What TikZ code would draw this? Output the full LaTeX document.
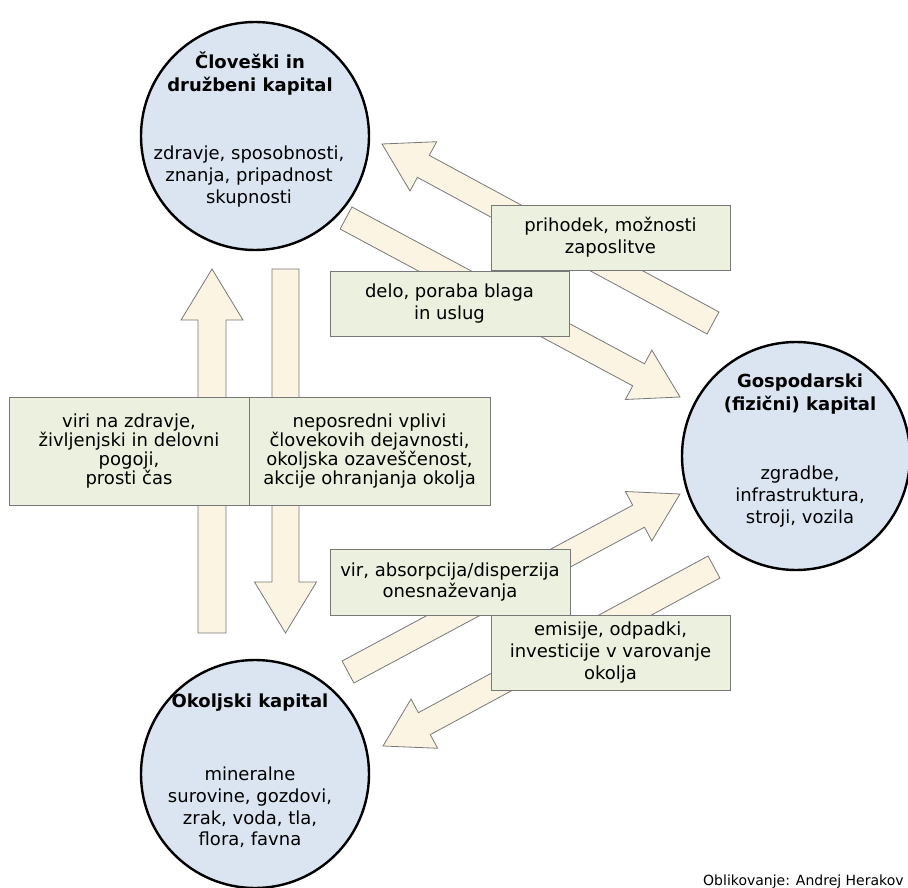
\documentclass[tikz,border=0pt]{standalone}
\usepackage{fontspec}
\setmainfont{DejaVu Sans}
\usetikzlibrary{calc}

\definecolor{capblue}{RGB}{219,229,241}
\definecolor{boxgreen}{RGB}{235,241,222}
\definecolor{flowcream}{RGB}{251,244,226}
\definecolor{edgegray}{RGB}{120,120,120}

% block arrow: tail, tip, half shaft width, half head width, head length
\newcommand\flowarrow[5]{%
  \coordinate (hb) at ($(#2)!#5pt!(#1)$);
  \draw[flow] ($(#1)!#3pt!90:(#2)$) -- ($(hb)!#3pt!90:(#2)$)
    -- ($(hb)!#4pt!90:(#2)$) -- (#2) -- ($(hb)!#4pt!-90:(#2)$)
    -- ($(hb)!#3pt!-90:(#2)$) -- ($(#1)!#3pt!-90:(#2)$) -- cycle;
}

\tikzset{
  capital/.style={circle, draw=black, line width=2.4pt, fill=capblue,
    minimum size=228pt, inner sep=0pt},
  tag/.style={draw=edgegray, line width=0.9pt, fill=boxgreen, align=center,
    inner sep=0pt},
  flow/.style={draw=edgegray, line width=0.8pt, fill=flowcream, line join=miter},
  captitle/.style={font=\fontsize{18}{23}\selectfont\bfseries, align=center, inner sep=0pt},
  capbody/.style={align=center, inner sep=0pt},
  tight/.style={font=\fontsize{18}{18.7}\selectfont},
}

\begin{document}
\begin{tikzpicture}[x=1pt, y=-1pt, font=\fontsize{18}{21.7}\selectfont]
\useasboundingbox (0,0) rectangle (908,888);

% arrow end points
\coordinate (upTail) at (212,633);
\coordinate (upTip) at (212,269);
\coordinate (downTail) at (285.5,269);
\coordinate (downTip) at (285.5,633);
\coordinate (incTail) at (713,323);
\coordinate (incTip) at (382,144);
\coordinate (workTail) at (346,218);
\coordinate (workTip) at (680,397);
\coordinate (srcTail) at (348,672);
\coordinate (srcTip) at (680,494);
\coordinate (emTail) at (714,567);
\coordinate (emTip) at (383,746);

% flows between the capitals
\flowarrow{upTail}{upTip}{14}{31}{51}
\flowarrow{downTail}{downTip}{13.5}{31}{51}
\flowarrow{incTail}{incTip}{12.5}{28}{47}
\flowarrow{workTail}{workTip}{12.5}{28}{47}
\flowarrow{srcTail}{srcTip}{12.5}{28}{47}
\flowarrow{emTail}{emTip}{12.5}{28}{47}

% the three capitals
\node[capital] (human) at (255,136) {};
\node[capital] (econ) at (796,456) {};
\node[capital] (env) at (255,774) {};

\node[captitle] (humanT) at (250,74) {Človeški in\\družbeni kapital};
\node[capbody] (humanB) at (249,176.5) {zdravje, sposobnosti,\\znanja, pripadnost\\skupnosti};

\node[captitle] (econT) at (800,394) {Gospodarski\\(fizični) kapital};
\node[capbody] (econB) at (800,496.5) {zgradbe,\\infrastruktura,\\stroji, vozila};

\node[captitle] (envT) at (250,703) {Okoljski kapital};
\node[capbody] (envB) at (250,807.5) {mineralne\\surovine, gozdovi,\\zrak, voda, tla,\\flora, favna};

% labels of the flows
\node[tag, tight, minimum width=240pt, minimum height=108pt] (health) at (129,451)
  {viri na zdravje,\\življenjski in delovni\\pogoji,\\prosti čas};
\node[tag, tight, minimum width=241pt, minimum height=108pt] (impact) at (369.5,451)
  {neposredni vplivi\\človekovih dejavnosti,\\okoljska ozaveščenost,\\akcije ohranjanja okolja};
\node[tag, minimum width=239pt, minimum height=65pt] (income) at (610.5,237.5)
  {prihodek, možnosti\\zaposlitve};
\node[tag, minimum width=239pt, minimum height=65pt] (work) at (449.5,303.5)
  {delo, poraba blaga\\in uslug};
\node[tag, minimum width=240pt, minimum height=66pt] (source) at (450,582)
  {vir, absorpcija/disperzija\\onesnaževanja};
\node[tag, minimum width=239pt, minimum height=75pt] (emission) at (610.5,652.5)
  {emisije, odpadki,\\investicije v varovanje\\okolja};

\node[anchor=base west, inner sep=0pt, font=\fontsize{14}{16}\selectfont] (credit) at (703,885)
  {Oblikovanje: Andrej Herakov};
\end{tikzpicture}
\end{document}
